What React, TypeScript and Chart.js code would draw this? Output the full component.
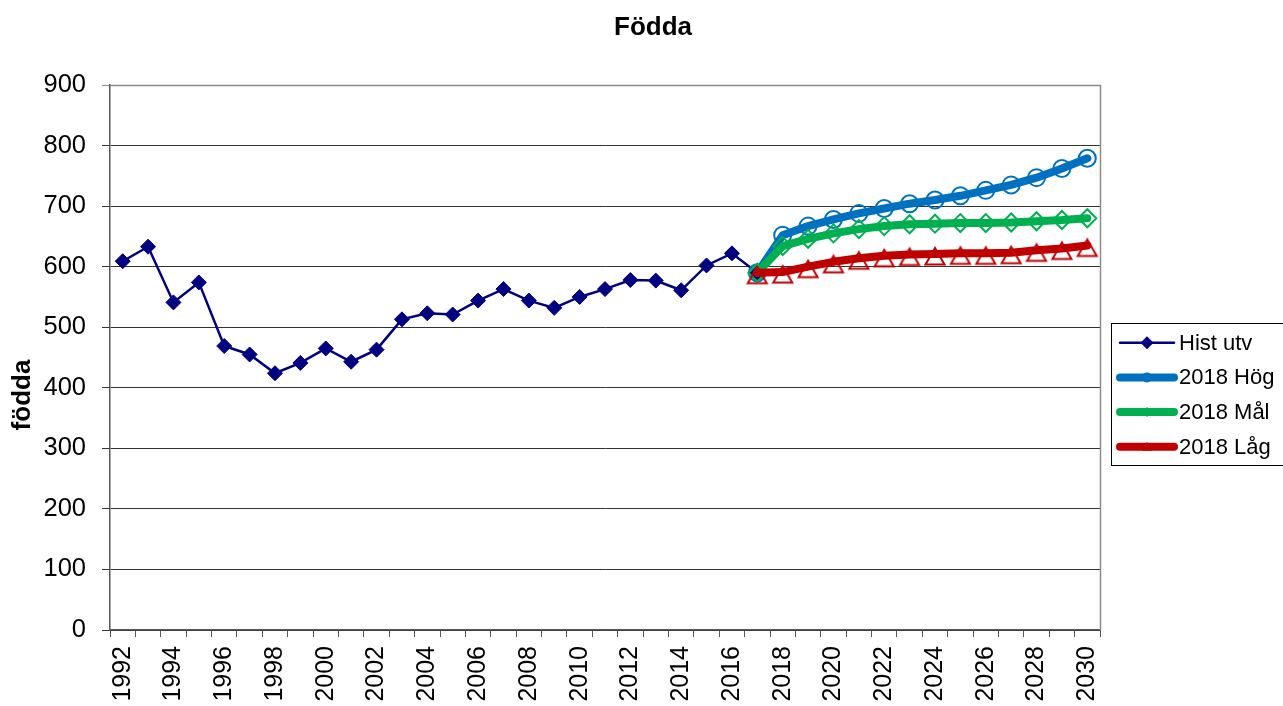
import React, { useEffect, useRef } from "react";
import { Chart, registerables } from "chart.js";

Chart.register(...registerables);

const years = [
  "1992", "1993", "1994", "1995", "1996", "1997", "1998", "1999", "2000", "2001",
  "2002", "2003", "2004", "2005", "2006", "2007", "2008", "2009", "2010", "2011",
  "2012", "2013", "2014", "2015", "2016", "2017", "2018", "2019", "2020", "2021",
  "2022", "2023", "2024", "2025", "2026", "2027", "2028", "2029", "2030",
];

// Historical 1992–2017
const histValues = [
  609, 633, 541, 574, 469, 455, 424, 441, 465, 443,
  463, 513, 523, 521, 544, 563, 544, 532, 550, 563,
  578, 577, 561, 602, 622, 590,
];

// Projections 2017–2030
const hogValues = [590, 652, 667, 678, 688, 696, 704, 710, 717, 726, 735, 747, 762, 779];
const malValues = [590, 634, 646, 655, 662, 667, 670, 671, 672, 672, 673, 675, 677, 680];
const lagValues = [590, 591, 600, 608, 614, 618, 620, 621, 622, 622, 623, 627, 630, 635];

const yTicks = [0, 100, 200, 300, 400, 500, 600, 700, 800, 900];

const titleText = "Födda";
const yTitleText = "födda";
const legendLabels = ["Hist utv", "2018 Hög", "2018 Mål", "2018 Låg"];

const FONT = "'Liberation Sans', Arial, sans-serif";

const histData = [...histValues, ...new Array(years.length - histValues.length).fill(null)];
const projPad = new Array(years.length - hogValues.length).fill(null);
const hogData = [...projPad, ...hogValues];
const malData = [...projPad, ...malValues];
const lagData = [...projPad, ...lagValues];

const COLORS = {
  hist: "#000080",
  hog: "#0070C0",
  mal: "#00B050",
  lag: "#C00000",
};

// Hollow triangle marker that hangs slightly below its point, as in the original
function makeTriangleMarker(): HTMLCanvasElement {
  const c = document.createElement("canvas");
  c.width = 26;
  c.height = 40;
  const g = c.getContext("2d")!;
  g.strokeStyle = COLORS.lag;
  g.lineWidth = 2;
  g.lineJoin = "miter";
  g.beginPath();
  g.moveTo(13, 14);
  g.lineTo(22.5, 30.5);
  g.lineTo(3.5, 30.5);
  g.closePath();
  g.stroke();
  return c;
}

const decorPlugin = {
  id: "decor",
  beforeDatasetsDraw(chart: any) {
    const { ctx, chartArea } = chart;
    ctx.save();
    ctx.strokeStyle = "#8c8c8c";
    ctx.lineWidth = 1.5;
    ctx.beginPath();
    ctx.moveTo(chartArea.left, chartArea.top + 0.5);
    ctx.lineTo(chartArea.right + 0.5, chartArea.top + 0.5);
    ctx.lineTo(chartArea.right + 0.5, chartArea.bottom);
    ctx.stroke();
    ctx.restore();
  },
  afterDraw(chart: any) {
    const { ctx } = chart;
    ctx.save();
    // Title
    ctx.fillStyle = "#000";
    ctx.font = `bold 26px ${FONT}`;
    ctx.textAlign = "center";
    ctx.textBaseline = "middle";
    ctx.fillText(titleText, 653, 28);

    // Y axis title
    ctx.save();
    ctx.translate(23, 395);
    ctx.rotate(-Math.PI / 2);
    ctx.font = `bold 26px ${FONT}`;
    ctx.textAlign = "center";
    ctx.textBaseline = "middle";
    ctx.fillText(yTitleText, 0, 0);
    ctx.restore();

    // Legend
    ctx.strokeStyle = "#000";
    ctx.lineWidth = 1;
    ctx.strokeRect(1111.5, 323.5, 180, 142);
    const styles = [
      { color: COLORS.hist, width: 2.5, marker: "diamond", r: 6.5 },
      { color: COLORS.hog, width: 8, marker: "circle", r: 5 },
      { color: COLORS.mal, width: 8, marker: "diamond", r: 5 },
      { color: COLORS.lag, width: 8, marker: "triangle", r: 5 },
    ];
    legendLabels.forEach((label, i) => {
      const y = 342.7 + i * 34.7;
      const s = styles[i];
      ctx.strokeStyle = s.color;
      ctx.lineWidth = s.width;
      ctx.lineCap = "round";
      ctx.beginPath();
      ctx.moveTo(1120, y);
      ctx.lineTo(1174, y);
      ctx.stroke();
      ctx.fillStyle = s.color;
      const mx = 1147;
      ctx.beginPath();
      if (s.marker === "diamond") {
        ctx.moveTo(mx - s.r, y);
        ctx.lineTo(mx, y - s.r);
        ctx.lineTo(mx + s.r, y);
        ctx.lineTo(mx, y + s.r);
        ctx.closePath();
      } else if (s.marker === "circle") {
        ctx.arc(mx, y, s.r, 0, Math.PI * 2);
      } else {
        ctx.moveTo(mx, y - s.r);
        ctx.lineTo(mx + s.r, y + s.r * 0.8);
        ctx.lineTo(mx - s.r, y + s.r * 0.8);
        ctx.closePath();
      }
      ctx.fill();
      ctx.fillStyle = "#000";
      ctx.font = `22px ${FONT}`;
      ctx.textAlign = "left";
      ctx.textBaseline = "middle";
      ctx.fillText(label, 1179, y + 1);
    });
    ctx.restore();
  },
};

export default function App() {
  const canvasRef = useRef<HTMLCanvasElement | null>(null);

  useEffect(() => {
    if (!canvasRef.current) return;
    const triMarker = makeTriangleMarker();
    const chart = new Chart(canvasRef.current, {
      type: "line",
      data: {
        labels: years,
        datasets: [
          {
            label: legendLabels[0],
            data: histData,
            borderColor: COLORS.hist,
            backgroundColor: COLORS.hist,
            borderWidth: 2.5,
            pointStyle: "rectRot",
            pointRadius: 7.5,
            pointBackgroundColor: COLORS.hist,
            pointBorderColor: COLORS.hist,
            pointBorderWidth: 1,
            tension: 0,
            spanGaps: false,
            order: 3,
          },
          {
            label: legendLabels[1],
            data: hogData,
            borderColor: COLORS.hog,
            borderWidth: 8,
            pointStyle: "circle",
            pointRadius: 8.5,
            pointBackgroundColor: "rgba(0,0,0,0)",
            pointBorderColor: COLORS.hog,
            pointBorderWidth: 2,
            tension: 0,
            borderCapStyle: "round",
            borderJoinStyle: "round",
            order: 2,
          },
          {
            label: legendLabels[2],
            data: malData,
            borderColor: COLORS.mal,
            borderWidth: 8,
            pointStyle: "rectRot",
            pointRadius: 9,
            pointBackgroundColor: "rgba(0,0,0,0)",
            pointBorderColor: COLORS.mal,
            pointBorderWidth: 2,
            tension: 0,
            borderCapStyle: "round",
            borderJoinStyle: "round",
            order: 1,
          },
          {
            label: legendLabels[3],
            data: lagData,
            borderColor: COLORS.lag,
            borderWidth: 8,
            pointStyle: triMarker,
            pointRadius: 10,
            tension: 0,
            borderCapStyle: "round",
            borderJoinStyle: "round",
            order: 0,
          },
        ],
      },
      options: {
        responsive: false,
        animation: false,
        devicePixelRatio: 1,
        layout: { padding: { left: 0, right: 183, top: 85, bottom: 0 } },
        plugins: {
          legend: { display: false },
          title: { display: false },
          tooltip: { enabled: false },
        },
        scales: {
          x: {
            type: "category",
            offset: true,
            grid: {
              offset: true,
              drawOnChartArea: false,
              drawTicks: true,
              tickLength: 7,
              color: "#555",
              lineWidth: 1,
            },
            border: { display: true, color: "#555", width: 1.5 },
            ticks: {
              autoSkip: false,
              maxRotation: 90,
              minRotation: 90,
              padding: 9,
              color: "#000",
              font: { family: FONT, size: 25 },
              callback: (_v: any, i: number) => (i % 2 === 0 ? years[i] : ""),
            },
            afterFit: (scale: any) => {
              scale.height = 76;
            },
          },
          y: {
            min: 0,
            max: 900,
            afterBuildTicks: (scale: any) => {
              scale.ticks = yTicks.map((v) => ({ value: v }));
            },
            grid: {
              color: (c: any) => (c.tick && c.tick.value === 900 ? "#8c8c8c" : "#333"),
              lineWidth: 1,
              drawTicks: true,
              tickLength: 8,
            },
            border: { display: true, color: "#555", width: 1.5 },
            ticks: {
              padding: 16,
              color: "#000",
              font: { family: FONT, size: 25.5 },
              callback: (v: any) => String(v),
            },
            afterFit: (scale: any) => {
              scale.width = 110;
            },
          },
        },
      },
      plugins: [decorPlugin],
    } as any);
    return () => chart.destroy();
  }, []);

  return (
    <div style={{ position: "absolute", left: 0, top: 0, width: 1283, height: 706, background: "#fff" }}>
      <canvas ref={canvasRef} width={1283} height={706} />
    </div>
  );
}
